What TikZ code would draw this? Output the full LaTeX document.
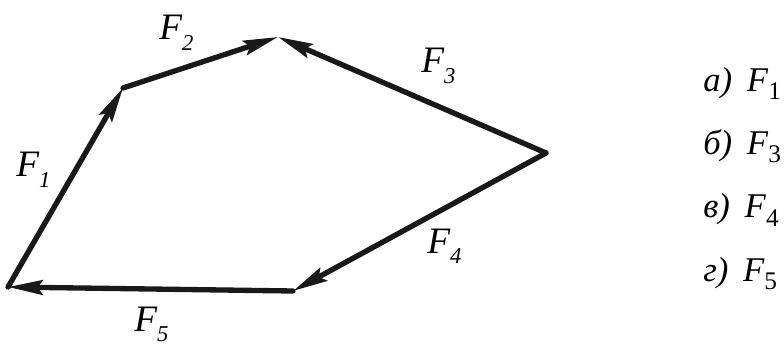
\documentclass[tikz,border=0pt]{standalone}
\usepackage{fontspec}
\setmainfont{Liberation Serif}[ItalicFont={Liberation Serif Italic}]
\usepackage{tikz}
\usetikzlibrary{arrows.meta}

\newcommand{\vlab}[2]{\textit{#1\raisebox{-8pt}{\fontsize{17}{17}\selectfont #2}}}
\newcommand{\ans}[3]{\textit{#1)}\hspace{11pt}\textit{#2}\raisebox{-6pt}{\fontsize{19}{19}\selectfont #3}}

\begin{document}
\begin{tikzpicture}[
  x=0.75pt,y=-0.75pt,
  vec/.style={-{Stealth[length=26pt,width=11pt,inset=4pt]},line width=4pt,line cap=round,draw=black!90},
  flab/.style={anchor=base west,inner sep=0pt,font=\fontsize{28}{28}\selectfont},
  choice/.style={anchor=base west,inner sep=0pt,font=\fontsize{26}{26}\selectfont}]
  \useasboundingbox (0,0) rectangle (784,345);
  \coordinate (p0) at (8,287);
  \coordinate (p1) at (123,88);
  \coordinate (p2) at (278,37);
  \coordinate (p3) at (546,153);
  \coordinate (p4) at (293,291);
  \draw[vec] (p0) -- (p1);
  \draw[vec] (p1) -- (p2);
  \draw[vec] (p3) -- (p2);
  \draw[vec] (p3) -- (p4);
  \draw[vec] (p4) -- (p0);
  \node[flab] (f1) at (16,177) {\vlab{F}{1}};
  \node[flab] (f2) at (159,40) {\vlab{F}{2}};
  \node[flab] (f3) at (421,73) {\vlab{F}{3}};
  \node[flab] (f4) at (427,253) {\vlab{F}{4}};
  \node[flab] (f5) at (134,331) {\vlab{F}{5}};
  \node[choice] (a) at (703,92) {\ans{а}{F}{1}};
  \node[choice] (b) at (703,155) {\ans{б}{F}{3}};
  \node[choice] (c) at (703,218) {\ans{в}{F}{4}};
  \node[choice] (d) at (703,281) {\ans{г}{F}{5}};
\end{tikzpicture}
\end{document}
